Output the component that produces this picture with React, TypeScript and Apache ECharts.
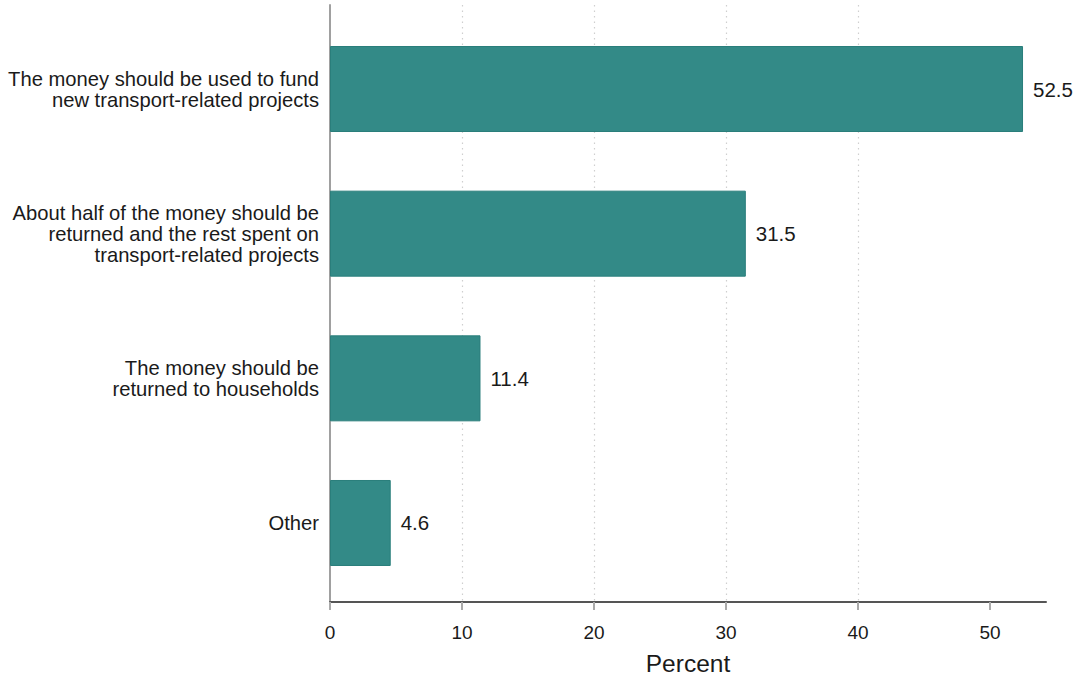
import React, { useEffect, useRef } from "react";
import * as echarts from "echarts";

const categories = [
  "The money should be used to fund\nnew transport-related projects",
  "About half of the money should be\nreturned and the rest spent on\ntransport-related projects",
  "The money should be\nreturned to households",
  "Other",
];
const values = [52.5, 31.5, 11.4, 4.6];
const xTicks = [0, 10, 20, 30, 40, 50];

export default function App() {
  const ref = useRef<HTMLDivElement>(null);
  useEffect(() => {
    if (!ref.current) return;
    const chart = echarts.init(ref.current, null, { renderer: "svg" });
    const font = "Liberation Sans, Arial, sans-serif";
    chart.setOption({
      animation: false,
      backgroundColor: "#ffffff",
      textStyle: { fontFamily: font },
      grid: [
        { left: 330, right: 28, top: 16.67, bottom: 85.67 },
        { left: 330, right: 28, top: 5, bottom: 73 },
      ],
      xAxis: [
        { gridIndex: 0, type: "value", min: 0, max: 54.24, show: false },
        {
          gridIndex: 1,
          type: "value",
          min: 0,
          max: 54.24,
          interval: 10,
          name: "Percent",
          nameLocation: "middle",
          nameGap: 49,
          nameTextStyle: { fontSize: 24.5, color: "#1a1a1a", fontFamily: font },
          axisLine: { show: true, onZero: false, lineStyle: { color: "#555", width: 2 } },
          axisTick: { show: true, length: 8, customValues: xTicks, lineStyle: { color: "#aaa", width: 2 } },
          axisLabel: { customValues: xTicks, fontSize: 19, color: "#1a1a1a", margin: 21, fontFamily: font },
          splitLine: {
            show: true,
            showMinLine: false,
            showMaxLine: false,
            lineStyle: { color: "#cfcfcf", type: [1.5, 4], width: 1.2 },
          },
        },
      ],
      yAxis: [
        {
          gridIndex: 0,
          type: "category",
          data: categories,
          inverse: true,
          axisLine: { show: false },
          axisTick: { show: false },
          axisLabel: {
            margin: 11,
            fontSize: 20.2,
            lineHeight: 21,
            color: "#1a1a1a",
            align: "right",
            fontFamily: font,
          },
        },
        {
          gridIndex: 1,
          type: "value",
          min: 0,
          max: 1,
          axisLine: { show: true, lineStyle: { color: "#a0a0a0", width: 2 } },
          axisTick: { show: false },
          axisLabel: { show: false },
          splitLine: { show: false },
        },
      ],
      series: [
        {
          type: "bar",
          xAxisIndex: 0,
          yAxisIndex: 0,
          data: values,
          barWidth: 86,
          itemStyle: { color: "#338a87", borderColor: "#2a7e7b", borderWidth: 1 },
          label: {
            show: true,
            position: "right",
            distance: 10,
            fontSize: 20.5,
            color: "#1a1a1a",
            fontFamily: font,
            formatter: (p: any) => p.value.toFixed(1),
          },
        },
      ],
    });
    return () => chart.dispose();
  }, []);
  return (
    <div
      ref={ref}
      style={{ position: "fixed", left: 0, top: 0, width: 1074, height: 681 }}
    />
  );
}
